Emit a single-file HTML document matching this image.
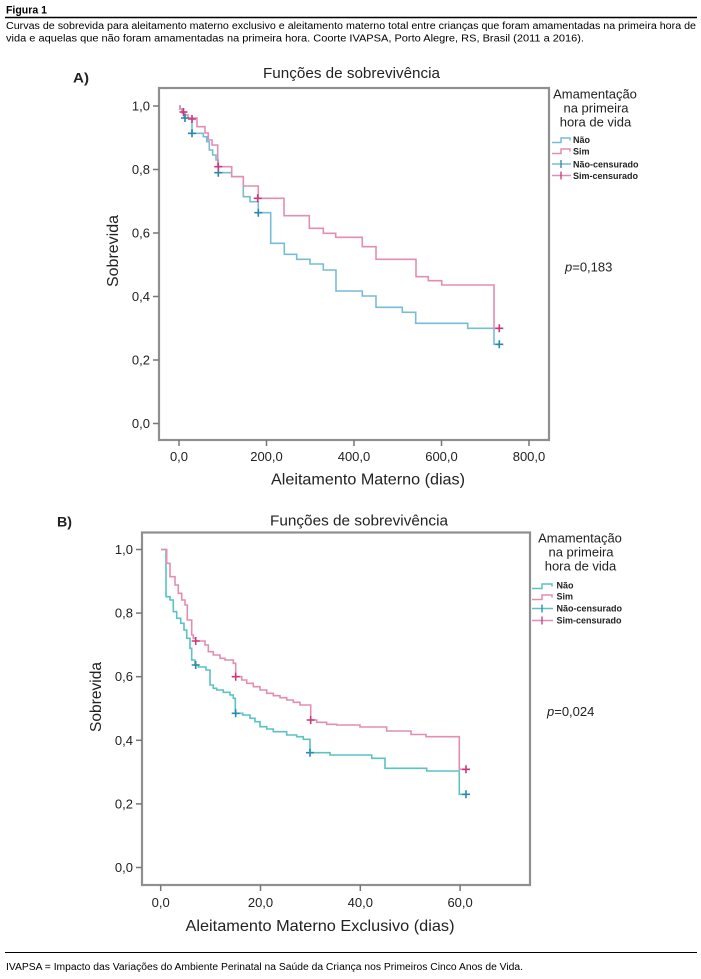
<!DOCTYPE html>
<html><head><meta charset="utf-8"><style>
html,body{margin:0;padding:0;background:#fff;}
svg{display:block;}
text{font-family:"Liberation Sans",sans-serif;fill:#222;}
</style></head><body>
<svg width="701" height="979" viewBox="0 0 701 979" xmlns="http://www.w3.org/2000/svg">
<rect width="701" height="979" fill="#fff"/>
<!-- header -->
<text x="6" y="13.5" font-size="11" font-weight="bold" textLength="41" lengthAdjust="spacingAndGlyphs" style="fill:#000">Figura 1</text>
<line x1="5" y1="17.5" x2="697" y2="17.5" stroke="#000" stroke-width="1.6"/>
<text x="6" y="29" font-size="10" textLength="690" lengthAdjust="spacingAndGlyphs" style="fill:#000">Curvas de sobrevida para aleitamento materno exclusivo e aleitamento materno total entre crianças que foram amamentadas na primeira hora de</text>
<text x="6" y="41.5" font-size="10" textLength="578" lengthAdjust="spacingAndGlyphs" style="fill:#000">vida e aquelas que não foram amamentadas na primeira hora. Coorte IVAPSA, Porto Alegre, RS, Brasil (2011 a 2016).</text>

<!-- ================= PLOT A ================= -->
<text x="73" y="82.5" font-size="14" font-weight="bold" textLength="16" lengthAdjust="spacingAndGlyphs">A)</text>
<text x="351.5" y="78" font-size="15" text-anchor="middle" textLength="177" lengthAdjust="spacingAndGlyphs">Funções de sobrevivência</text>
<rect x="159" y="88" width="390" height="352" fill="none" stroke="#8f8f8f" stroke-width="2.2"/>
<g stroke="#777" stroke-width="1.5">
<line x1="153" y1="106" x2="159" y2="106"/>
<line x1="153" y1="169.5" x2="159" y2="169.5"/>
<line x1="153" y1="233" x2="159" y2="233"/>
<line x1="153" y1="296.5" x2="159" y2="296.5"/>
<line x1="153" y1="360" x2="159" y2="360"/>
<line x1="153" y1="423.5" x2="159" y2="423.5"/>
<line x1="179" y1="440" x2="179" y2="446"/>
<line x1="266.5" y1="440" x2="266.5" y2="446"/>
<line x1="354" y1="440" x2="354" y2="446"/>
<line x1="441.5" y1="440" x2="441.5" y2="446"/>
<line x1="529" y1="440" x2="529" y2="446"/>
</g>
<g font-size="13" text-anchor="end">
<text x="150" y="110.5">1,0</text>
<text x="150" y="174">0,8</text>
<text x="150" y="237.5">0,6</text>
<text x="150" y="301">0,4</text>
<text x="150" y="364.5">0,2</text>
<text x="150" y="428">0,0</text>
</g>
<g font-size="13" text-anchor="middle">
<text x="179" y="461">0,0</text>
<text x="266.5" y="461">200,0</text>
<text x="354" y="461">400,0</text>
<text x="441.5" y="461">600,0</text>
<text x="529" y="461">800,0</text>
</g>
<text x="368" y="484.5" font-size="16" text-anchor="middle" textLength="194" lengthAdjust="spacingAndGlyphs">Aleitamento Materno (dias)</text>
<text transform="translate(118,251) rotate(-90)" font-size="16" text-anchor="middle" textLength="72" lengthAdjust="spacingAndGlyphs">Sobrevida</text>
<!-- curves A -->
<path fill="none" stroke="#78bcd6" stroke-width="1.6" d="M179,106 H180 V109 H182 V113 H184 V118 H192 V133.3 H203.3 V136.7 H206.7 V141.7 H209.3 V150 H212.7 V155 H216 V160 H218.3 V172.7 H231.7 V176.7 H243.3 V196.7 H250 V201.7 H258.3 V212.7 H270.7 V243.3 H284.3 V254.3 H296.7 V259.3 H310 V264 H323.3 V270 H336 V291 H362.3 V296 H376 V307.3 H402.3 V312.3 H415.7 V323.3 H467.7 V328.3 H494 V344.3 H499.3"/>
<path fill="none" stroke="#e28db2" stroke-width="1.6" d="M179,106 H180 V109 H182 V112 H185 V115 H188 V118 H197 V126.7 H205 V133 H208.3 V140 H212 V145 H217.7 V166.7 H231.7 V176.7 H243.3 V186 H258.3 V198.3 H284 V215.7 H309.3 V228.3 H323.3 V233.3 H335.7 V237.3 H362.3 V246.7 H376 V259.3 H416 V276.7 H428.3 V280.7 H441.7 V285 H494 V328.3 H499.3"/>
<g stroke="#2a87ad" stroke-width="1.6">
<path d="M181,118 h8 M185,114 v8"/>
<path d="M188,133.3 h8 M192,129.3 v8"/>
<path d="M214.3,172.7 h8 M218.3,168.7 v8"/>
<path d="M254.3,212.7 h8 M258.3,208.7 v8"/>
<path d="M495.3,344.3 h8 M499.3,340.3 v8"/>
</g>
<g stroke="#c9397a" stroke-width="1.6">
<path d="M179.5,112 h8 M183.5,108 v8"/>
<path d="M188,119 h8 M192,115 v8"/>
<path d="M214.3,166.7 h8 M218.3,162.7 v8"/>
<path d="M253.7,198.3 h8 M257.7,194.3 v8"/>
<path d="M495.3,328.3 h8 M499.3,324.3 v8"/>
</g>
<!-- legend A -->
<g font-size="13" text-anchor="middle">
<text x="595" y="98.5">Amamentação</text>
<text x="596" y="112.5">na primeira</text>
<text x="595.5" y="126.5">hora de vida</text>
</g>
<path fill="none" stroke="#78bcd6" stroke-width="1.5" d="M552,142.5 H561 V138 H570 V140.5"/>
<path fill="none" stroke="#e28db2" stroke-width="1.5" d="M552,153.5 H561 V149 H570 V151.5"/>
<path fill="none" stroke="#78bcd6" stroke-width="1.5" d="M552,164 H571"/>
<path fill="none" stroke="#2a87ad" stroke-width="1.3" d="M561,160 V168"/>
<path fill="none" stroke="#e28db2" stroke-width="1.5" d="M552,175.5 H571"/>
<path fill="none" stroke="#c9397a" stroke-width="1.3" d="M561,171.5 V179.5"/>
<g font-size="9" font-weight="bold">
<text x="573" y="143">Não</text>
<text x="573" y="154.5">Sim</text>
<text x="573" y="167.5">Não-censurado</text>
<text x="573" y="179">Sim-censurado</text>
</g>
<text x="565" y="271.5" font-size="13"><tspan font-style="italic">p</tspan>=0,183</text>

<!-- ================= PLOT B ================= -->
<text x="57" y="526.5" font-size="14" font-weight="bold" textLength="15" lengthAdjust="spacingAndGlyphs">B)</text>
<text x="359" y="525.5" font-size="15" text-anchor="middle" textLength="178" lengthAdjust="spacingAndGlyphs">Funções de sobrevivência</text>
<rect x="142" y="532.5" width="388" height="352.5" fill="none" stroke="#8f8f8f" stroke-width="2.2"/>
<g stroke="#777" stroke-width="1.5">
<line x1="136" y1="549.5" x2="142" y2="549.5"/>
<line x1="136" y1="613.1" x2="142" y2="613.1"/>
<line x1="136" y1="676.7" x2="142" y2="676.7"/>
<line x1="136" y1="740.3" x2="142" y2="740.3"/>
<line x1="136" y1="803.9" x2="142" y2="803.9"/>
<line x1="136" y1="867.5" x2="142" y2="867.5"/>
<line x1="160.7" y1="885" x2="160.7" y2="891"/>
<line x1="260.5" y1="885" x2="260.5" y2="891"/>
<line x1="360.3" y1="885" x2="360.3" y2="891"/>
<line x1="460.1" y1="885" x2="460.1" y2="891"/>
</g>
<g font-size="13" text-anchor="end">
<text x="133" y="554">1,0</text>
<text x="133" y="617.6">0,8</text>
<text x="133" y="681.2">0,6</text>
<text x="133" y="744.8">0,4</text>
<text x="133" y="808.4">0,2</text>
<text x="133" y="872">0,0</text>
</g>
<g font-size="13" text-anchor="middle">
<text x="160.7" y="907">0,0</text>
<text x="260.5" y="907">20,0</text>
<text x="360.3" y="907">40,0</text>
<text x="460.1" y="907">60,0</text>
</g>
<text x="320" y="931" font-size="16" text-anchor="middle" textLength="269" lengthAdjust="spacingAndGlyphs">Aleitamento Materno Exclusivo (dias)</text>
<text transform="translate(101,697) rotate(-90)" font-size="16" text-anchor="middle" textLength="70" lengthAdjust="spacingAndGlyphs">Sobrevida</text>
<!-- curves B -->
<path fill="none" stroke="#5cc2c2" stroke-width="1.6" d="M161,549.5 H166 V596.7 H170 V600 H173.3 V611.7 H176.7 V618.3 H180.7 V623.3 H184 V630 H186.7 V638.3 H190 V648.3 H191.7 V660 H195 V665 H198.3 V667 H206 V670 H210 V685 H213.3 V688.3 H216.7 V690 H223.3 V692.3 H230 V695 H233.3 V698.3 H235.3 V713.3 H242.7 V715 H250 V718.3 H255 V721.7 H260 V726.7 H266.7 V729 H273.3 V731.7 H286.7 V735 H296.7 V736.7 H303.3 V739.3 H310 V752.7 H330 V755 H371.7 V758.3 H385 V768.3 H426.7 V771 H459.3 V794.3 H466"/>
<path fill="none" stroke="#e28db2" stroke-width="1.6" d="M161,549.5 H166.7 V563.3 H170 V576.7 H175 V585 H178.3 V593.3 H181.7 V600 H185 V605 H187.3 V620 H191.7 V635 H193.3 V638.3 H195.7 V641 H205 V645 H208.3 V651.7 H213.3 V655 H220 V658.3 H225 V660 H233.3 V663.3 H235.7 V676.7 H241.7 V680 H246.7 V683.3 H253.3 V686.7 H260 V690 H266.7 V693.3 H273.3 V695.7 H280 V697.7 H286.7 V700 H293.3 V702.3 H300 V705 H310.7 V720 H316.7 V722.3 H326.7 V724.3 H336.7 V725 H360 V727 H386.7 V731 H411 V734.5 H426 V736.7 H459.3 V769.3 H466"/>
<g stroke="#2a8ab0" stroke-width="1.6">
<path d="M191.7,665 h8 M195.7,661 v8"/>
<path d="M231.7,713.3 h8 M235.7,709.3 v8"/>
<path d="M306,752.7 h8 M310,748.7 v8"/>
<path d="M462,794.3 h8 M466,790.3 v8"/>
</g>
<g stroke="#c9397a" stroke-width="1.6">
<path d="M191.7,641 h8 M195.7,637 v8"/>
<path d="M231.7,676.7 h8 M235.7,672.7 v8"/>
<path d="M306.7,720 h8 M310.7,716 v8"/>
<path d="M462,769.3 h8 M466,765.3 v8"/>
</g>
<!-- legend B -->
<g font-size="13" text-anchor="middle">
<text x="580" y="542.5">Amamentação</text>
<text x="581" y="556.5">na primeira</text>
<text x="580.5" y="570.5">hora de vida</text>
</g>
<path fill="none" stroke="#5cc2c2" stroke-width="1.5" d="M532,588.5 H542 V584 H552 V586.5"/>
<path fill="none" stroke="#e28db2" stroke-width="1.5" d="M532,599.5 H542 V595 H552 V597.5"/>
<path fill="none" stroke="#5cc2c2" stroke-width="1.5" d="M532,608.5 H553"/>
<path fill="none" stroke="#2a8ab0" stroke-width="1.3" d="M542,604.5 V612.5"/>
<path fill="none" stroke="#e28db2" stroke-width="1.5" d="M532,620.5 H553"/>
<path fill="none" stroke="#c9397a" stroke-width="1.3" d="M542,616.5 V624.5"/>
<g font-size="9" font-weight="bold">
<text x="556.5" y="588.5">Não</text>
<text x="556.5" y="599.5">Sim</text>
<text x="556.5" y="611.5">Não-censurado</text>
<text x="556.5" y="623.5">Sim-censurado</text>
</g>
<text x="547" y="716" font-size="13"><tspan font-style="italic">p</tspan>=0,024</text>

<!-- footer -->
<line x1="5" y1="952.5" x2="697" y2="952.5" stroke="#000" stroke-width="1"/>
<text x="6" y="970" font-size="10" textLength="517" lengthAdjust="spacingAndGlyphs" style="fill:#000">IVAPSA = Impacto das Variações do Ambiente Perinatal na Saúde da Criança nos Primeiros Cinco Anos de Vida.</text>
</svg>
</body></html>
